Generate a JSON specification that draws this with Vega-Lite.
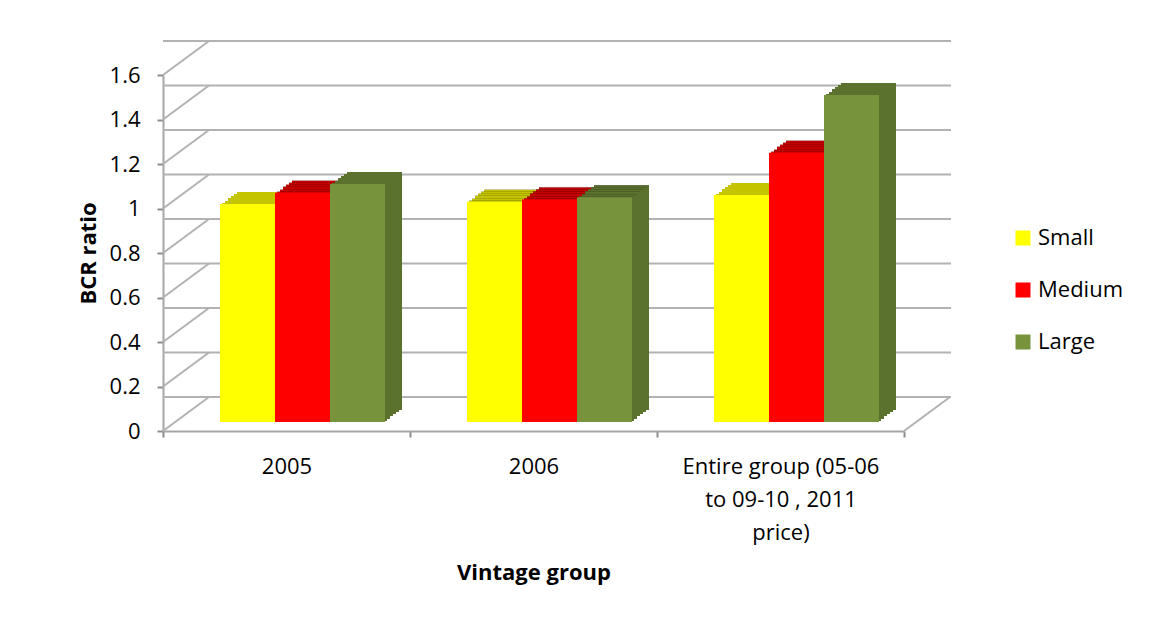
{
  "$schema": "https://vega.github.io/schema/vega-lite/v6.json",
  "autosize": "none",
  "width": 741,
  "height": 356,
  "padding": {"left": 163, "top": 75, "right": 254, "bottom": 193},
  "background": "white",
  "config": {
    "font": "Open Sans",
    "view": {"stroke": null},
    "axis": {"labelColor": "#000000", "titleColor": "#000000", "labelFontSize": 22, "titleFontSize": 22, "titleFontWeight": "bold", "domainColor": "#a6a6a6", "domainWidth": 2, "tickColor": "#8c8c8c", "tickWidth": 2, "tickSize": 6, "grid": false, "labelLimit": 400},
    "legend": {"labelFontSize": 22, "labelColor": "#000000"}
  },
  "datasets": {
    "bcr": [
      {"group": "2005", "size": "Small", "v": 0.98},
      {"group": "2005", "size": "Medium", "v": 1.03},
      {"group": "2005", "size": "Large", "v": 1.07},
      {"group": "2006", "size": "Small", "v": 0.99},
      {"group": "2006", "size": "Medium", "v": 1.0},
      {"group": "2006", "size": "Large", "v": 1.01},
      {"group": "Entire group (05-06 to 09-10 , 2011 price)", "size": "Small", "v": 1.02},
      {"group": "Entire group (05-06 to 09-10 , 2011 price)", "size": "Medium", "v": 1.21},
      {"group": "Entire group (05-06 to 09-10 , 2011 price)", "size": "Large", "v": 1.47}
    ],
    "ticks": [
      {"v": 0, "s": 0}, {"v": 0.2, "s": 0}, {"v": 0.4, "s": 0}, {"v": 0.6, "s": 0}, {"v": 0.8, "s": 0},
      {"v": 1.0, "s": 0}, {"v": 1.2, "s": 0}, {"v": 1.4, "s": 0}, {"v": 1.6, "s": 0}, {"v": 0, "s": 1}
    ]
  },
  "encoding": {
    "y": {
      "field": "v", "type": "quantitative",
      "scale": {"domain": [0, 1.6], "nice": false, "zero": true},
      "axis": {"title": "BCR ratio", "values": [0, 0.2, 0.4, 0.6, 0.8, 1.0, 1.2, 1.4, 1.6], "format": "~g", "labelPadding": 17, "titlePadding": 9}
    }
  },
  "resolve": {"scale": {"x": "independent", "xOffset": "independent"}, "axis": {"x": "independent"}},
  "layer": [
    {
      "description": "back wall gridlines",
      "data": {"name": "ticks"},
      "transform": [{"filter": "datum.s == 0"}],
      "mark": {"type": "rule", "color": "#b2b2b2", "strokeWidth": 2, "xOffset": 47, "x2Offset": 44, "yOffset": -34},
      "encoding": {}
    },
    {
      "description": "side wall and floor diagonals",
      "data": {"name": "ticks"},
      "mark": {"type": "rule", "color": "#b2b2b2", "strokeWidth": 2, "x2Offset": 46, "y2Offset": -34},
      "encoding": {
        "x": {"field": "s", "type": "quantitative", "scale": {"domain": [0, 1], "nice": false, "zero": false}, "axis": null},
        "x2": {"field": "s"},
        "y2": {"field": "v"}
      }
    },
    {
      "description": "columns: stepped depth slices from back to front, each darkened, then the front face",
      "data": {"name": "bcr"},
      "encoding": {
        "x": {
          "field": "group", "type": "nominal", "sort": null,
          "scale": {"paddingInner": 0, "paddingOuter": 0},
          "axis": {
            "title": "Vintage group", "labelAngle": 0, "tickBand": "extent", "labelPadding": 19, "labelLineHeight": 33,
            "labelExpr": "datum.value == 'Entire group (05-06 to 09-10 , 2011 price)' ? ['Entire group (05-06', 'to 09-10 , 2011', 'price)'] : datum.label",
            "titlePadding": 19
          }
        },
        "color": {
          "field": "size", "type": "nominal",
          "scale": {"domain": ["Small", "Medium", "Large"], "range": ["#ffff00", "#ff0000", "#77933c"]},
          "legend": {"title": null, "orient": "none", "legendX": 849, "legendY": 152, "symbolType": "square", "symbolSize": 225, "symbolStrokeWidth": 0, "symbolOpacity": 1, "rowPadding": 30, "labelOffset": 4, "padding": 0}
        }
      },
      "resolve": {"scale": {"xOffset": "independent"}},
      "layer": [
        {"mark": {"type": "bar", "yOffset": -21, "y2Offset": -21},
         "encoding": {"color": {"value": "#000000"}, "xOffset": {"field": "size", "sort": ["Small", "Medium", "Large"], "scale": {"paddingInner": 0, "paddingOuter": 0.74545455, "align": 0.90243902}}}},
        {"mark": {"type": "bar", "opacity": 0.77, "yOffset": -21, "y2Offset": -21},
         "encoding": {"xOffset": {"field": "size", "sort": ["Small", "Medium", "Large"], "scale": {"paddingInner": 0, "paddingOuter": 0.74545455, "align": 0.90243902}}}},
        {"mark": {"type": "bar", "yOffset": -19, "y2Offset": -19},
         "encoding": {"color": {"value": "#000000"}, "xOffset": {"field": "size", "sort": ["Small", "Medium", "Large"], "scale": {"paddingInner": 0, "paddingOuter": 0.74545455, "align": 0.86585366}}}},
        {"mark": {"type": "bar", "opacity": 0.77, "yOffset": -19, "y2Offset": -19},
         "encoding": {"xOffset": {"field": "size", "sort": ["Small", "Medium", "Large"], "scale": {"paddingInner": 0, "paddingOuter": 0.74545455, "align": 0.86585366}}}},
        {"mark": {"type": "bar", "yOffset": -17, "y2Offset": -17},
         "encoding": {"color": {"value": "#000000"}, "xOffset": {"field": "size", "sort": ["Small", "Medium", "Large"], "scale": {"paddingInner": 0, "paddingOuter": 0.74545455, "align": 0.82926829}}}},
        {"mark": {"type": "bar", "opacity": 0.77, "yOffset": -17, "y2Offset": -17},
         "encoding": {"xOffset": {"field": "size", "sort": ["Small", "Medium", "Large"], "scale": {"paddingInner": 0, "paddingOuter": 0.74545455, "align": 0.82926829}}}},
        {"mark": {"type": "bar", "yOffset": -15, "y2Offset": -15},
         "encoding": {"color": {"value": "#000000"}, "xOffset": {"field": "size", "sort": ["Small", "Medium", "Large"], "scale": {"paddingInner": 0, "paddingOuter": 0.74545455, "align": 0.79268293}}}},
        {"mark": {"type": "bar", "opacity": 0.77, "yOffset": -15, "y2Offset": -15},
         "encoding": {"xOffset": {"field": "size", "sort": ["Small", "Medium", "Large"], "scale": {"paddingInner": 0, "paddingOuter": 0.74545455, "align": 0.79268293}}}},
        {"mark": {"type": "bar", "yOffset": -12, "y2Offset": -12},
         "encoding": {"color": {"value": "#000000"}, "xOffset": {"field": "size", "sort": ["Small", "Medium", "Large"], "scale": {"paddingInner": 0, "paddingOuter": 0.74545455, "align": 0.75609756}}}},
        {"mark": {"type": "bar", "opacity": 0.77, "yOffset": -12, "y2Offset": -12},
         "encoding": {"xOffset": {"field": "size", "sort": ["Small", "Medium", "Large"], "scale": {"paddingInner": 0, "paddingOuter": 0.74545455, "align": 0.75609756}}}},
        {"mark": {"type": "bar", "yOffset": -10, "y2Offset": -10},
         "encoding": {"color": {"value": "#000000"}, "xOffset": {"field": "size", "sort": ["Small", "Medium", "Large"], "scale": {"paddingInner": 0, "paddingOuter": 0.74545455, "align": 0.7195122}}}},
        {"mark": {"type": "bar", "opacity": 0.77, "yOffset": -10, "y2Offset": -10},
         "encoding": {"xOffset": {"field": "size", "sort": ["Small", "Medium", "Large"], "scale": {"paddingInner": 0, "paddingOuter": 0.74545455, "align": 0.7195122}}}},
        {"mark": {"type": "bar", "yOffset": -9, "y2Offset": -9},
         "encoding": {"xOffset": {"field": "size", "sort": ["Small", "Medium", "Large"], "scale": {"paddingInner": 0, "paddingOuter": 0.74545455, "align": 0.69512195}}}}
      ]
    }
  ]
}
